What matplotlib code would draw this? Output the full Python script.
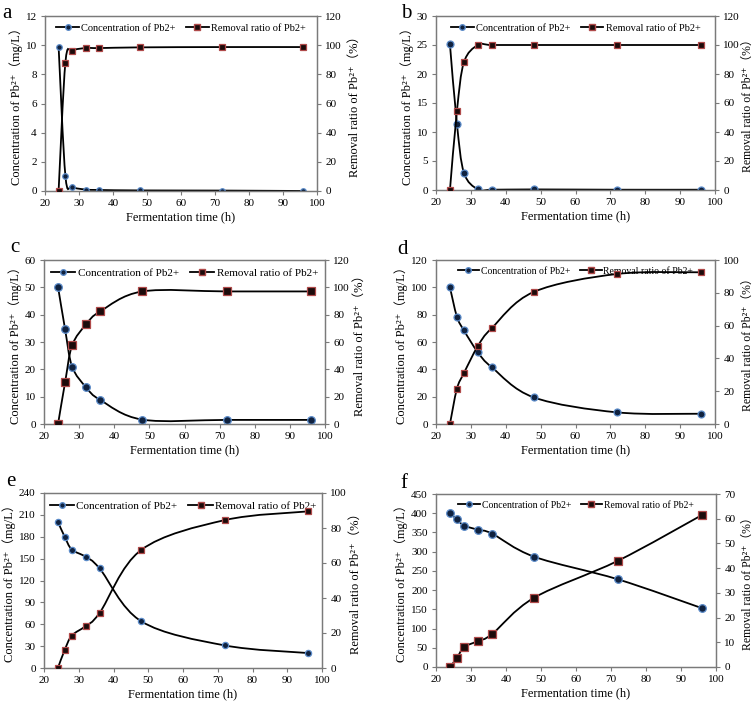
import numpy as np
import matplotlib
matplotlib.use('Agg')
import matplotlib.pyplot as plt
from matplotlib.path import Path
from matplotlib.patches import PathPatch
from matplotlib.lines import Line2D

plt.rcParams['font.family'] = ['Liberation Serif', 'DejaVu Serif', 'Noto Sans CJK SC']

# fermentation time (h)
hours = [24, 26, 28, 32, 36, 48, 72, 96]

conc_a = [9.9, 1.05, 0.3, 0.1, 0.07, 0.04, 0.03, 0.0]
rem_a = [0, 88, 96, 98, 98, 98.5, 98.7, 98.7]
conc_b = [25.1, 11.4, 3.0, 0.1, 0.05, 0.1, 0.05, 0.05]
rem_b = [0, 54.5, 88, 100, 100, 100, 100, 100]
conc_c = [50.1, 34.7, 21.0, 13.4, 8.8, 1.6, 1.5, 1.5]
rem_c = [0, 30.4, 57.5, 73, 82.4, 97, 97, 97]
conc_d = [100, 78.5, 68.5, 52.5, 41.5, 19.5, 8.5, 7.5]
rem_d = [0, 21.5, 31, 47.5, 58.5, 80.5, 91.5, 92.5]
conc_e = [200.5, 179.5, 162.5, 152.5, 136.5, 64, 31, 20.5]
rem_e = [0, 10.5, 18.5, 24, 31.5, 67.5, 84.5, 89.5]
conc_f = [400, 384, 368, 357, 347, 287, 228, 153]
rem_f = [0, 3.7, 8, 10.5, 13.3, 28, 43, 61.5]

left_max = [12, 30, 60, 120, 240, 450]
left_step = [2, 5, 10, 20, 30, 50]
right_max = [120, 120, 120, 100, 100, 70]
right_step = [20, 20, 20, 20, 20, 10]
letters = ['a', 'b', 'c', 'd', 'e', 'f']

# axes boxes in pixels: left, top, right, bottom
boxes = [(45, 16, 317, 191), (436, 16, 715, 190),
         (44, 260, 325, 424), (436, 260, 715, 424),
         (44, 493, 322, 668), (436, 494, 716, 667)]
letter_pos = [(2, 4), (401, 4), (10, 238), (397, 240), (6, 472), (400, 474)]
msizes = [4, 5, 5.5, 5, 4.5, 5.5]
leg_fs = [7.5, 7.5, 8, 7, 8, 7]
# x positions (pixels) of the left edge of the right-hand axis label
rlab_x = [349, 742, 354, 742, 350, 742]
rlab_fs = [9, 8.5, 9, 8.5, 9, 8.5]

W, H = 756, 702
grey = '#7a7a7a'


def smooth_path(x, y):
    # Excel-like smoothed line: cubic bezier through every point
    p = np.column_stack([x, y]).astype(float)
    n = len(p)
    verts = [p[0]]
    codes = [Path.MOVETO]
    for i in range(n - 1):
        p0 = p[i - 1] if i > 0 else p[i]
        p3 = p[i + 2] if i + 2 < n else p[i + 1]
        c1 = p[i] + (p[i + 1] - p0) / 6
        c2 = p[i + 1] - (p3 - p[i]) / 6
        verts += [c1, c2, p[i + 1]]
        codes += [Path.CURVE4] * 3
    return Path(verts, codes)


fig = plt.figure(figsize=(W / 100, H / 100), dpi=100)

concs = [conc_a, conc_b, conc_c, conc_d, conc_e, conc_f]
rems = [rem_a, rem_b, rem_c, rem_d, rem_e, rem_f]

for k in range(6):
    l, t, r, b = boxes[k]
    ax = fig.add_axes([l / W, 1 - b / H, (r - l) / W, (b - t) / H])
    ax2 = ax.twinx()

    ax.add_patch(PathPatch(smooth_path(hours, concs[k]), fill=False, lw=1.3, color='black', zorder=2))
    ax2.add_patch(PathPatch(smooth_path(hours, rems[k]), fill=False, lw=1.3, color='black', zorder=2))
    ax.plot(hours, concs[k], 'o', ms=msizes[k], mfc='#10223f', mec='#5b8bc9', mew=0.9, zorder=3)
    ax2.plot(hours, rems[k], 's', ms=msizes[k], mfc='#1c0b0b', mec='#b04a4a', mew=0.9, zorder=3)

    ax.set_xlim(20, 100)
    ax.set_xticks(range(20, 101, 10))
    ax.set_ylim(0, left_max[k])
    ax.set_yticks(np.arange(0, left_max[k] + 0.1, left_step[k]))
    ax2.set_ylim(0, right_max[k])
    ax2.set_yticks(np.arange(0, right_max[k] + 0.1, right_step[k]))

    for a_ in (ax, ax2):
        for s in a_.spines.values():
            s.set_color(grey)
            s.set_linewidth(0.9)
        a_.tick_params(labelsize=8, length=3, width=0.8, color=grey, pad=3)

    ax.set_xlabel('Fermentation time (h)', fontsize=9, labelpad=2)
    ax.set_ylabel('Concentration of Pb²⁺（mg/L）', fontsize=9, labelpad=2)
    ax2.set_ylabel('Removal ratio of Pb²⁺（%）', fontsize=rlab_fs[k])
    ax2.yaxis.set_label_coords((rlab_x[k] - l) / (r - l), 0.5)

    handles = [Line2D([], [], color='black', lw=1.3, marker='o', ms=4,
                      mfc='#10223f', mec='#5b8bc9'),
               Line2D([], [], color='black', lw=1.3, marker='s', ms=4,
                      mfc='#1c0b0b', mec='#b04a4a')]
    ax.legend(handles, ['Concentration of Pb2+', 'Removal ratio of Pb2+'],
              loc='upper center', bbox_to_anchor=(0.5, 1.0), ncol=2, frameon=False,
              fontsize=leg_fs[k], handlelength=2.2, handletextpad=0.2, columnspacing=1.0,
              borderaxespad=0.3)

    lx, ly = letter_pos[k]
    fig.text(lx / W, 1 - ly / H, letters[k], fontsize=15, va='top', ha='left')

fig.savefig('out.png', dpi=100)
